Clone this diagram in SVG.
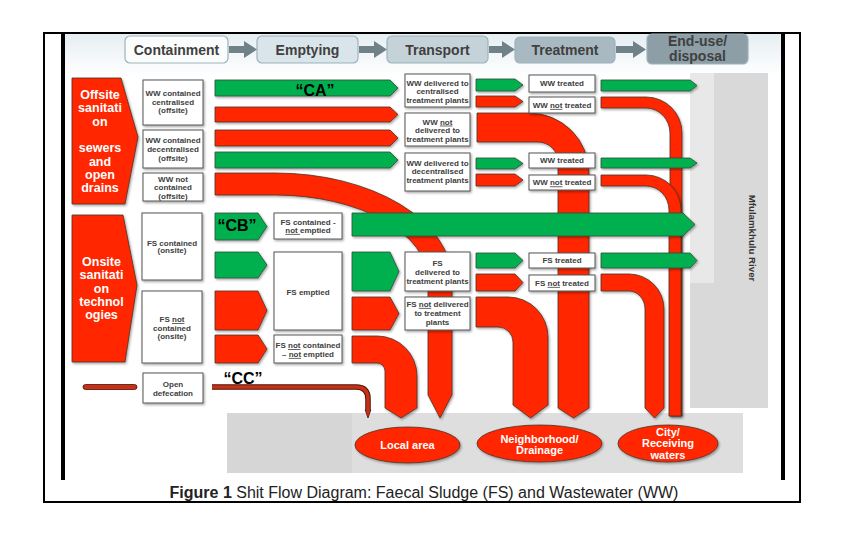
<svg xmlns="http://www.w3.org/2000/svg" width="864" height="538" viewBox="0 0 864 538">
<defs>
<filter id="sh" x="-10%" y="-10%" width="125%" height="140%"><feDropShadow dx="1.2" dy="1.5" stdDeviation="0.8" flood-color="#000" flood-opacity="0.35"/></filter>
<linearGradient id="hg" x1="0" y1="0" x2="0" y2="1"><stop offset="0" stop-color="#e6eef2"/><stop offset="1" stop-color="#ffffff"/></linearGradient>
</defs>
<style>
.r{fill:#ff2600;stroke:#4a3328;stroke-width:0.8;filter:url(#sh)}
.g{fill:#00b050;stroke:#2d4a38;stroke-width:0.8;filter:url(#sh)}
.bx{fill:#ffffff;stroke:#555555;stroke-width:1;filter:url(#sh)}
.hb{stroke:#9cb3bc;stroke-width:1.2}
.ha{fill:#718189}
.t{font-family:"Liberation Sans",Arial,sans-serif;font-weight:bold;font-size:8px;fill:#404040;text-anchor:middle}
.h{font-family:"Liberation Sans",Arial,sans-serif;font-weight:bold;font-size:14px;fill:#404040;text-anchor:middle}
.w{font-family:"Liberation Sans",Arial,sans-serif;font-weight:bold;font-size:12.5px;fill:#ffffff;text-anchor:middle}
.e{font-family:"Liberation Sans",Arial,sans-serif;font-weight:bold;font-size:11px;fill:#ffffff;text-anchor:middle}
.q{font-family:"Liberation Sans",Arial,sans-serif;font-weight:bold;font-size:16px;fill:#000000;text-anchor:middle}
.u{text-decoration:underline}
</style>
<rect x="0" y="0" width="864" height="538" fill="#ffffff"/>
<rect x="44" y="33" width="756" height="469" fill="none" stroke="#000" stroke-width="2"/>
<rect x="65" y="34" width="716" height="42" fill="url(#hg)"/>
<rect x="61" y="33" width="4" height="447" fill="#000"/>
<rect x="781" y="33" width="4" height="447" fill="#000"/>

<g id="background-areas">
<rect x="227" y="413" width="125" height="60" fill="#d6d6d6"/>
<rect x="352" y="413" width="391" height="60" fill="#dedede"/>
<rect x="690" y="73" width="78" height="335" fill="#d9d9d9"/>
<rect x="690" y="73" width="24" height="210" fill="#e8e8e8"/>
<text transform="translate(749,238) rotate(90)" font-family="Liberation Sans,Arial,sans-serif" font-weight="bold" font-size="9.7" fill="#333" text-anchor="middle">Mfulamkhulu River</text>
</g>

<g id="header">
<g id="h-containment"><rect class="hb" x="125" y="36" width="103" height="27" rx="5" fill="#fbfdfd"/><text class="h" x="176.5" y="54.5">Containment</text></g>
<g id="h-emptying"><rect class="hb" x="257" y="36" width="101" height="27" rx="5" fill="#d9e5ea"/><text class="h" x="307.5" y="54.5">Emptying</text></g>
<g id="h-transport"><rect class="hb" x="387" y="36" width="101" height="27" rx="5" fill="#c5d3d9"/><text class="h" x="437.5" y="54.5">Transport</text></g>
<g id="h-treatment"><rect class="hb" x="515" y="37" width="100" height="26" rx="5" fill="#a9b9c1"/><text class="h" x="565" y="55">Treatment</text></g>
<g id="h-enduse"><rect class="hb" x="647" y="34" width="101" height="30" rx="5" fill="#8d9ea6"/><text class="h" x="697.5" y="46" font-size="13">End-use/</text><text class="h" x="697.5" y="60.5" font-size="13">disposal</text></g>
<path class="ha" d="M229,46 H244 V41 L257,49.5 L244,58 V53 H229 Z"/>
<path class="ha" d="M359,46 H374 V41 L387,49.5 L374,58 V53 H359 Z"/>
<path class="ha" d="M489,46 H502 V41 L515,49.5 L502,58 V53 H489 Z"/>
<path class="ha" d="M616,46 H633 V41 L646,49.5 L633,58 V53 H616 Z"/>
</g>

<g id="connectors">
<path class="r" d="M215,173 L275,173 A177,107 0 0 1 452,280 L452,395 L440,418 L428,395 L428,280 A153,85 0 0 0 275,195 L215,195 Z"/>
<path class="r" d="M477,113 L529,113 A60,60 0 0 1 589,173 L589,408 L573.5,418 L558,408 L558,162 A20,20 0 0 0 538,142 L477,142 Z"/>
<path class="r" d="M601,97 L646,97 A36,36 0 0 1 682,133 L682,416 L670,416 L670,133 A24,25 0 0 0 646,108 L601,108 Z"/>
<path class="r" d="M601,175 L646,175 A35,35 0 0 1 681,210 L681,416 L669,416 L669,210 A23,24 0 0 0 646,186 L601,186 Z"/>
<path class="r" d="M601,274 L629,274 A35,35 0 0 1 664,309 L664,408 L654.5,418 L645,408 L645,309 A16,18 0 0 0 629,291 L601,291 Z"/>
<path class="r" d="M476,297 L508,297 A40,40 0 0 1 548,337 L548,405 L530.5,418 L513,405 L513,342 A15,15 0 0 0 498,327 L476,327 Z"/>
<path class="r" d="M352,336 L377,336 A40,40 0 0 1 417,376 L417,408 L401,418 L385,408 L385,371 A8,8 0 0 0 377,363 L352,363 Z"/>
<path d="M212,387 H356 Q368,387 368,399 V411" fill="none" stroke="#4a1200" stroke-width="5.5"/>
<path d="M365.2,410 L370.8,410 L368,418 Z" fill="#c8301a" stroke="#4a1200" stroke-width="0.8"/>
<path d="M212,387 H356 Q368,387 368,399 V411" fill="none" stroke="#c8301a" stroke-width="3.5"/>
<rect x="83" y="384.5" width="54" height="5" rx="2.5" fill="#c8301a" stroke="#4a1200" stroke-width="0.8"/>

<polygon class="g" points="215,80 390,80 398,88 390,96 215,96"/>
<polygon class="r" points="215,107 390,107 398,114.5 390,122 215,122"/>
<polygon class="r" points="215,130 390,130 398,138 390,146 215,146"/>
<polygon class="g" points="215,152 390,152 398,160 390,168 215,168"/>

<polygon class="g" points="476,79 515,79 523,85 515,91 476,91"/>
<polygon class="r" points="476,96 515,96 523,101.5 515,107 476,107"/>
<polygon class="g" points="476,158 515,158 523,163.5 515,169 476,169"/>
<polygon class="r" points="476,174 515,174 523,180 515,186 476,186"/>
<polygon class="g" points="476,253 515,253 523,260.5 515,268 476,268"/>
<polygon class="r" points="476,274 515,274 523,282.5 515,291 476,291"/>

<polygon class="g" points="601,80 690,80 697,85.5 690,91 601,91"/>
<polygon class="g" points="601,158 690,158 697,163 690,168 601,168"/>
<polygon class="g" points="601,253 690,253 697,260.5 690,268 601,268"/>
<polygon class="g" points="352,213 683,213 695,224.5 683,236 352,236"/>

<polygon class="g" points="215,213 258,213 267,226.5 258,240 215,240"/>
<polygon class="g" points="215,252 258,252 267,265 258,278 215,278"/>
<polygon class="r" points="215,291 258,291 267,310.5 258,330 215,330"/>
<polygon class="r" points="215,335 258,335 267,349 258,363 215,363"/>

<polygon class="g" points="352,252 390,252 399,271.5 390,291 352,291"/>
<polygon class="r" points="352,297 390,297 399,313.5 390,330 352,330"/>
</g>

<g id="labels-abc">
<text class="q" x="315" y="95.5">“CA”</text>
<text class="q" x="237" y="231">“CB”</text>
<text class="q" x="243" y="384">“CC”</text>
</g>

<g id="offsite"><polygon class="r" points="72,78 121,78 138,137 125,204 72,204"/>
<text class="w" x="100" y="99">Offsite</text><text class="w" x="100" y="112.3">sanitati</text><text class="w" x="100" y="125.6">on</text>
<text class="w" x="100" y="152.3">sewers</text><text class="w" x="100" y="165.6">and</text><text class="w" x="100" y="179">open</text><text class="w" x="100" y="192.3">drains</text></g>
<g id="onsite"><polygon class="r" points="72,215 123,215 137,285 125,362 72,362"/>
<text class="w" x="101.5" y="266">Onsite</text><text class="w" x="101.5" y="279.3">sanitati</text><text class="w" x="101.5" y="292.6">on</text><text class="w" x="101.5" y="306">technol</text><text class="w" x="101.5" y="319.3">ogies</text></g>

<g id="ww-contained-centralised"><rect class="bx" x="143" y="80" width="60" height="45"/><text class="t" x="173" y="96">WW contained</text><text class="t" x="173" y="104.5">centralised</text><text class="t" x="173" y="113">(offsite)</text></g>
<g id="ww-contained-decentralised"><rect class="bx" x="143" y="130" width="60" height="38"/><text class="t" x="173" y="143">WW contained</text><text class="t" x="173" y="152">decentralised</text><text class="t" x="173" y="161">(offsite)</text></g>
<g id="ww-not-contained"><rect class="bx" x="143" y="173" width="60" height="28"/><text class="t" x="173" y="181.5">WW not</text><text class="t" x="173" y="190">contained</text><text class="t" x="173" y="198.5">(offsite)</text></g>
<g id="fs-contained"><rect class="bx" x="142" y="213" width="60" height="67"/><text class="t" x="172" y="245.6">FS contained</text><text class="t" x="172" y="253.4">(onsite)</text></g>
<g id="fs-not-contained"><rect class="bx" x="142" y="291" width="60" height="72"/><text class="t" x="172" y="322">FS <tspan class="u">not</tspan></text><text class="t" x="172" y="330.6">contained</text><text class="t" x="172" y="339">(onsite)</text></g>
<g id="open-defecation"><rect class="bx" x="143" y="373" width="60" height="30"/><text class="t" x="173" y="387.3">Open</text><text class="t" x="173" y="395.6">defecation</text></g>

<g id="fs-contained-not-emptied"><rect class="bx" x="274" y="213" width="68" height="26"/><text class="t" x="308" y="224.6">FS contained -</text><text class="t" x="308" y="232.9"><tspan class="u">not </tspan>emptied</text></g>
<g id="fs-emptied"><rect class="bx" x="274" y="252" width="68" height="78"/><text class="t" x="308" y="294.6">FS emptied</text></g>
<g id="fs-not-contained-not-emptied"><rect class="bx" x="274" y="335" width="68" height="28"/><text class="t" x="308" y="348.2">FS <tspan class="u">not</tspan> contained</text><text class="t" x="308" y="356.9">– <tspan class="u">not</tspan> emptied</text></g>

<g id="ww-delivered-centralised"><rect class="bx" x="405" y="74" width="65" height="33"/><text class="t" x="437.5" y="85.6">WW delivered to</text><text class="t" x="437.5" y="94.2">centralised</text><text class="t" x="437.5" y="102.9">treatment plants</text></g>
<g id="ww-not-delivered"><rect class="bx" x="405" y="113" width="65" height="33"/><text class="t" x="437.5" y="124.6">WW <tspan class="u">not</tspan></text><text class="t" x="437.5" y="133">delivered to</text><text class="t" x="437.5" y="142">treatment plants</text></g>
<g id="ww-delivered-decentralised"><rect class="bx" x="405" y="153" width="65" height="38"/><text class="t" x="437.5" y="165.6">WW delivered to</text><text class="t" x="437.5" y="174.2">decentralised</text><text class="t" x="437.5" y="182.9">treatment plants</text></g>
<g id="fs-delivered"><rect class="bx" x="405" y="252" width="65" height="39"/><text class="t" x="437.5" y="265.6">FS</text><text class="t" x="437.5" y="274.6">delivered to</text><text class="t" x="437.5" y="283.6">treatment plants</text></g>
<g id="fs-not-delivered"><rect class="bx" x="405" y="297" width="65" height="33"/><text class="t" x="437.5" y="306.9">FS <tspan class="u">not</tspan> delivered</text><text class="t" x="437.5" y="315.9">to treatment</text><text class="t" x="437.5" y="325.2">plants</text></g>

<g id="ww-treated-1"><rect class="bx" x="529" y="75" width="66" height="17"/><text class="t" x="562" y="86.4">WW treated</text></g>
<g id="ww-not-treated-1"><rect class="bx" x="529" y="97" width="66" height="16"/><text class="t" x="562" y="107.9">WW <tspan class="u">not</tspan> treated</text></g>
<g id="ww-treated-2"><rect class="bx" x="529" y="153" width="66" height="15"/><text class="t" x="562" y="163.4">WW treated</text></g>
<g id="ww-not-treated-2"><rect class="bx" x="529" y="175" width="66" height="15"/><text class="t" x="562" y="185.4">WW <tspan class="u">not</tspan> treated</text></g>
<g id="fs-treated"><rect class="bx" x="529" y="253" width="66" height="15"/><text class="t" x="562" y="263.4">FS treated</text></g>
<g id="fs-not-treated"><rect class="bx" x="529" y="275" width="66" height="16"/><text class="t" x="562" y="285.9">FS <tspan class="u">not</tspan> treated</text></g>

<g id="local-area"><ellipse class="r" cx="407.5" cy="445" rx="52.5" ry="18"/><text class="e" x="407.5" y="449">Local area</text></g>
<g id="neighborhood"><ellipse class="r" cx="539.5" cy="443.5" rx="62.5" ry="18.5"/><text class="e" x="539.5" y="443">Neighborhood/</text><text class="e" x="539.5" y="454">Drainage</text></g>
<g id="city"><ellipse class="r" cx="668" cy="443.5" rx="50" ry="18.5"/><text class="e" x="668" y="435.5" font-size="10.5">City/</text><text class="e" x="668" y="447.3" font-size="10.5">Receiving</text><text class="e" x="668" y="459.3" font-size="10.5">waters</text></g>

<text x="424" y="498" font-family="Liberation Sans,Arial,sans-serif" font-size="16" fill="#222" text-anchor="middle"><tspan font-weight="bold">Figure 1</tspan> Shit Flow Diagram: Faecal Sludge (FS) and Wastewater (WW)</text>
</svg>
